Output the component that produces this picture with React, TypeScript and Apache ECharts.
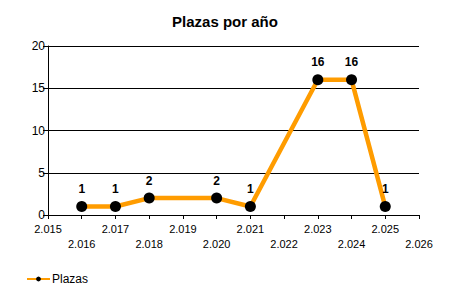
import React, { useEffect, useRef } from "react";
import * as echarts from "echarts";

const years = [2016, 2017, 2018, 2020, 2021, 2023, 2024, 2025];
const plazas = [1, 1, 2, 2, 1, 16, 16, 1];
const xMin = 2015;
const xMax = 2026;
const yTicks = [0, 5, 10, 15, 20];

export default function App() {
  const ref = useRef<HTMLDivElement>(null);
  useEffect(() => {
    if (!ref.current) return;
    const chart = echarts.init(ref.current, null, { renderer: "svg" });
    const font = "Liberation Sans, Arial, sans-serif";
    chart.setOption({
      animation: false,
      backgroundColor: "#ffffff",
      textStyle: { fontFamily: font },
      title: {
        text: "Plazas por año",
        left: "center",
        top: 9,
        textStyle: { fontSize: 15, fontWeight: "bold", color: "#000", fontFamily: font },
      },
      legend: {
        left: 21,
        bottom: 10,
        itemWidth: 23,
        itemHeight: 6,
        itemGap: 4,
        textStyle: { fontSize: 12, color: "#000", fontFamily: font, padding: [0, 0, 0, -3] },
        data: ["Plazas"],
      },
      grid: { left: 48, right: 31, top: 46, bottom: 85, containLabel: false },
      xAxis: {
        type: "value",
        min: xMin,
        max: xMax,
        interval: 1,
        axisLine: { show: true, lineStyle: { color: "#000", width: 1 } },
        axisTick: { show: true, length: 4, lineStyle: { color: "#000" } },
        splitLine: { show: false },
        axisLabel: {
          color: "#000",
          fontSize: 11,
          fontFamily: font,
          margin: 6,
          lineHeight: 15,
          showMinLabel: true,
          showMaxLabel: true,
          formatter: (v: number) => {
            const s = String(v);
            const t = s.slice(0, 1) + "." + s.slice(1);
            return (v - xMin) % 2 === 0 ? t : "\n" + t;
          },
        },
      },
      yAxis: {
        type: "value",
        min: yTicks[0],
        max: yTicks[yTicks.length - 1],
        interval: 5,
        axisLine: { show: true, lineStyle: { color: "#000", width: 1 } },
        axisTick: { show: true, length: 5, lineStyle: { color: "#000" } },
        splitLine: { show: true, lineStyle: { color: "#000", width: 1 } },
        axisLabel: { color: "#000", fontSize: 12, fontFamily: font, margin: 3 },
      },
      series: [
        {
          name: "Plazas",
          type: "line",
          data: years.map((y, i) => [y, plazas[i]]),
          lineStyle: { color: "#FF9C00", width: 4.5 },
          itemStyle: { color: "#000" },
          color: "#FF9C00",
          symbol: "circle",
          symbolSize: 11,
          label: {
            show: true,
            position: "top",
            distance: 6,
            fontSize: 12,
            fontWeight: "bold",
            color: "#000",
            fontFamily: font,
            formatter: (p: any) => String(p.value[1]),
          },
        },
      ],
    });
    return () => chart.dispose();
  }, []);
  return <div ref={ref} style={{ width: 450, height: 300, position: "absolute", left: 0, top: 0 }} />;
}
